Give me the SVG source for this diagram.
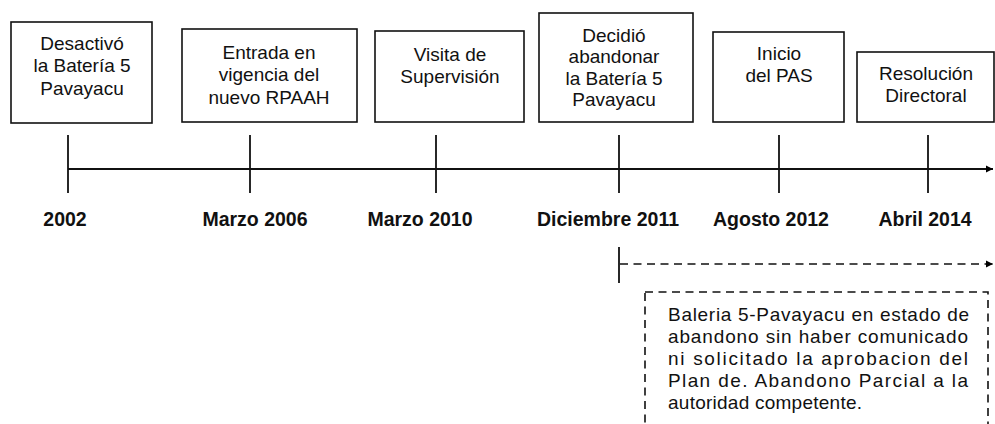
<svg xmlns="http://www.w3.org/2000/svg" width="995" height="424" viewBox="0 0 995 424">
<defs>
<marker id="arr" markerWidth="8" markerHeight="8" refX="7" refY="4" orient="auto" markerUnits="userSpaceOnUse">
<path d="M0,0.5 L7,4 L0,7.5 Z" fill="#000"/>
</marker>
<style>
.box{fill:#fff;stroke:#111;stroke-width:1.6}
.bt{font-family:"Liberation Sans",Arial,sans-serif;font-size:19px;fill:#111;text-anchor:middle}
.yr{font-family:"Liberation Sans",Arial,sans-serif;font-size:19.5px;font-weight:bold;fill:#111;text-anchor:middle}
.line{stroke:#111;stroke-width:2;fill:none}
.tick{stroke:#111;stroke-width:1.8;fill:none}
.dash{stroke:#111;stroke-width:1.6;fill:none;stroke-dasharray:8 5.5}
.nt{font-family:"Liberation Sans",Arial,sans-serif;font-size:19px;fill:#111}
</style>
</defs>
<rect width="995" height="424" fill="#fff"/>
<g id="connectors">
<line class="line" x1="68" y1="169" x2="993" y2="169" marker-end="url(#arr)"/>
<line class="tick" x1="68" y1="135" x2="68" y2="193"/>
<line class="tick" x1="250" y1="135" x2="250" y2="193"/>
<line class="tick" x1="436" y1="135" x2="436" y2="193"/>
<line class="tick" x1="619" y1="135" x2="619" y2="193"/>
<line class="tick" x1="779" y1="135" x2="779" y2="193"/>
<line class="tick" x1="928" y1="135" x2="928" y2="193"/>
<line class="tick" x1="619" y1="247" x2="619" y2="283"/>
<line class="dash" x1="620" y1="264" x2="993" y2="264" marker-end="url(#arr)"/>
</g>
<g id="n2002">
<rect class="box" x="11" y="22" width="141" height="101"/>
<text class="bt" x="82" y="50">Desactivó</text>
<text class="bt" x="82" y="72">la Batería 5</text>
<text class="bt" x="82" y="95">Pavayacu</text>
</g>
<g id="n2006">
<rect class="box" x="182" y="29" width="175" height="93"/>
<text class="bt" x="269" y="59">Entrada en</text>
<text class="bt" x="269" y="81">vigencia del</text>
<text class="bt" x="269" y="104">nuevo RPAAH</text>
</g>
<g id="n2010">
<rect class="box" x="375" y="31" width="149" height="91"/>
<text class="bt" x="450" y="61">Visita de</text>
<text class="bt" x="450" y="83">Supervisión</text>
</g>
<g id="n2011">
<rect class="box" x="539" y="13" width="154" height="109"/>
<text class="bt" x="614" y="42">Decidió</text>
<text class="bt" x="614" y="63">abandonar</text>
<text class="bt" x="614" y="85">la Batería 5</text>
<text class="bt" x="614" y="106">Pavayacu</text>
</g>
<g id="n2012">
<rect class="box" x="713" y="32" width="131" height="90"/>
<text class="bt" x="779" y="60">Inicio</text>
<text class="bt" x="779" y="82">del PAS</text>
</g>
<g id="n2014">
<rect class="box" x="857" y="52" width="137" height="70"/>
<text class="bt" x="926" y="80">Resolución</text>
<text class="bt" x="926" y="102">Directoral</text>
</g>
<g id="years">
<text class="yr" x="65" y="226">2002</text>
<text class="yr" x="255" y="226">Marzo 2006</text>
<text class="yr" x="420" y="226">Marzo 2010</text>
<text class="yr" x="608" y="226">Diciembre 2011</text>
<text class="yr" x="771" y="226">Agosto 2012</text>
<text class="yr" x="925" y="226">Abril 2014</text>
</g>
<g id="note">
<rect class="dash" x="645" y="292" width="343" height="134"/>
<text class="nt" x="668" y="321" textLength="301" lengthAdjust="spacing">Baleria 5-Pavayacu en estado de</text>
<text class="nt" x="668" y="343" textLength="300" lengthAdjust="spacing">abandono sin haber comunicado</text>
<text class="nt" x="668" y="365" textLength="300" lengthAdjust="spacing">ni solicitado la aprobacion del</text>
<text class="nt" x="668" y="387" textLength="300" lengthAdjust="spacing">Plan de. Abandono Parcial a la</text>
<text class="nt" x="668" y="409" textLength="194" lengthAdjust="spacing">autoridad competente.</text>
</g>
</svg>
